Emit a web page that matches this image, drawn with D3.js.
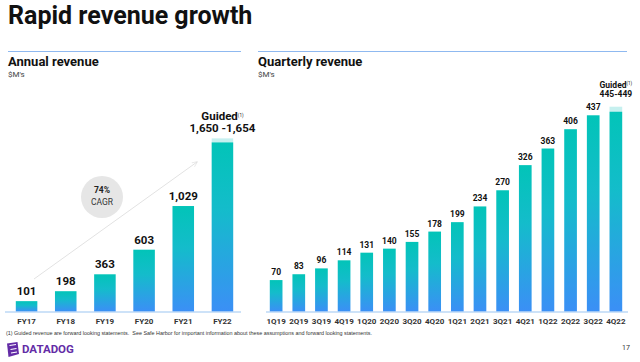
<!DOCTYPE html>
<html lang="en">
<head>
  <meta charset="UTF-8">
  <title>Rapid revenue growth</title>
  <script src="https://d3js.org/d3.v7.min.js"></script>
  <style>
    body { margin: 0; background: #fff; }
    svg { display: block; font-family: Roboto, "Liberation Sans", sans-serif; }
  </style>
</head>
<body>
  <div id="chart"></div>
  <script>
    // annual data
    const years = ["FY17", "FY18", "FY19", "FY20", "FY21", "FY22"];
    const annualValues = [101, 198, 363, 603, 1029, 1650];
    const annualLabels = ["101", "198", "363", "603", "1,029", "1,650 -1,654"];
    const annualGuided = [1650, 1654];

    // quarterly data
    const quarters = ["1Q19", "2Q19", "3Q19", "4Q19", "1Q20", "2Q20", "3Q20", "4Q20",
                      "1Q21", "2Q21", "3Q21", "4Q21", "1Q22", "2Q22", "3Q22", "4Q22"];
    const quarterValues = [70, 83, 96, 114, 131, 140, 155, 178, 199, 234, 270, 326, 363, 406, 437, 445];
    const quarterLabels = ["70", "83", "96", "114", "131", "140", "155", "178", "199", "234",
                           "270", "326", "363", "406", "437", "445-449"];
    const quarterGuided = [445, 449];

    const width = 640;
    const height = 362;

    const svg = d3.select("#chart")
      .append("svg")
      .attr("width", width)
      .attr("height", height);

    const defs = svg.append("defs");
    const grad = defs.append("linearGradient")
      .attr("id", "barGrad")
      .attr("x1", 0).attr("y1", 0).attr("x2", 0).attr("y2", 1);
    grad.append("stop").attr("offset", "0%").attr("stop-color", "#02c4b8");
    grad.append("stop").attr("offset", "40%").attr("stop-color", "#14bccb");
    grad.append("stop").attr("offset", "100%").attr("stop-color", "#3b8ff6");

    // title
    svg.append("text")
      .attr("x", 8).attr("y", 24)
      .text("Rapid revenue growth")
      .style("font-size", "25px")
      .style("font-weight", "bold")
      .attr("fill", "#111");

    function panel(x0, x1, title) {
      svg.append("line")
        .attr("x1", x0).attr("x2", x1)
        .attr("y1", 51.5).attr("y2", 51.5)
        .attr("stroke", "#8fb9f0").attr("stroke-width", 1.2);
      svg.append("text")
        .attr("x", x0).attr("y", 66)
        .text(title)
        .style("font-size", "13px")
        .style("font-weight", "bold")
        .attr("fill", "#111");
      svg.append("text")
        .attr("x", x0).attr("y", 77)
        .text("$M's")
        .style("font-size", "8px")
        .attr("fill", "#444");
    }
    panel(8, 241, "Annual revenue");
    panel(258, 627, "Quarterly revenue");

    const baseY = 311.5;

    function barChart(opts) {
      const x = d3.scaleBand()
        .domain(opts.cats)
        .range(opts.range)
        .paddingInner(opts.padIn)
        .paddingOuter(opts.padOut);
      const y = d3.scaleLinear()
        .domain([0, opts.max])
        .range([baseY, opts.top]);

      const g = svg.append("g");
      const last = opts.cats.length - 1;

      // guided cap (light)
      const capTop = Math.min(y(opts.guided[1]), y(opts.guided[0]) - opts.cap);
      g.append("rect")
        .attr("x", x(opts.cats[last]))
        .attr("width", x.bandwidth())
        .attr("y", capTop)
        .attr("height", y(opts.guided[0]) - capTop)
        .attr("fill", "#c6f0ef");

      g.selectAll(".bar")
        .data(opts.values)
        .enter()
        .append("rect")
        .attr("x", (d, i) => x(opts.cats[i]))
        .attr("width", x.bandwidth())
        .attr("y", d => y(d))
        .attr("height", d => baseY - y(d))
        .attr("fill", "url(#barGrad)");

      // value labels
      g.selectAll(".val")
        .data(opts.values)
        .enter()
        .append("text")
        .attr("x", (d, i) => x(opts.cats[i]) + x.bandwidth() / 2)
        .attr("y", (d, i) => i === last ? opts.guidedY : y(d) - opts.gap)
        .attr("text-anchor", "middle")
        .text((d, i) => opts.labels[i])
        .style("font-size", opts.fs + "px")
        .style("font-weight", "bold")
        .attr("fill", "#111");

      // "Guided(1)"
      const gt = g.append("text")
        .attr("x", x(opts.cats[last]) + x.bandwidth() / 2)
        .attr("y", opts.guidedY - opts.fs - 1)
        .attr("text-anchor", "middle")
        .style("font-size", opts.fs + "px")
        .style("font-weight", "bold")
        .attr("fill", "#111");
      gt.append("tspan").text("Guided");
      gt.append("tspan").text("(1)")
        .attr("dy", -3)
        .style("font-size", "4.5px")
        .style("font-weight", "normal");

      // baseline
      g.append("line")
        .attr("x1", opts.base[0]).attr("x2", opts.base[1])
        .attr("y1", baseY + 0.5).attr("y2", baseY + 0.5)
        .attr("stroke", "#9cc6f2").attr("stroke-width", 1.2);

      // axis labels
      const axis = g.append("g")
        .attr("transform", "translate(0," + (baseY + 3) + ")")
        .call(d3.axisBottom(x).tickSize(0).tickPadding(4));
      axis.select(".domain").remove();
      axis.selectAll("text")
        .style("font-family", "Roboto, sans-serif")
        .style("font-size", "8px")
        .style("font-weight", "bold")
        .attr("fill", "#333");
    }

    barChart({
      cats: years, values: annualValues, labels: annualLabels, guided: annualGuided,
      range: [6, 243], padIn: 0.45, padOut: 0.25,
      max: 1700, top: baseY - 174.25, cap: 4,
      base: [5, 241], fs: 11.5, gap: 6, guidedY: 132
    });

    barChart({
      cats: quarters, values: quarterValues, labels: quarterLabels, guided: quarterGuided,
      range: [263, 629], padIn: 0.44, padOut: 0.3,
      max: 500, top: baseY - 224.5, cap: 5,
      base: [266, 628], fs: 8.5, gap: 5, guidedY: 97
    });

    // CAGR arrow
    defs.append("marker")
      .attr("id", "arrow")
      .attr("viewBox", "0 0 10 10")
      .attr("refX", 8).attr("refY", 5)
      .attr("markerWidth", 6).attr("markerHeight", 6)
      .attr("orient", "auto")
      .append("path")
      .attr("d", "M0,1 L9,5 L0,9")
      .attr("fill", "none")
      .attr("stroke", "#ddd");
    svg.append("line")
      .attr("x1", 34).attr("y1", 279)
      .attr("x2", 197).attr("y2", 162)
      .attr("stroke", "#e2e2e2").attr("stroke-width", 1)
      .attr("marker-end", "url(#arrow)");

    svg.append("circle")
      .attr("cx", 102).attr("cy", 197).attr("r", 21)
      .attr("fill", "#e6e6e6");
    svg.append("text")
      .attr("x", 102).attr("y", 193)
      .attr("text-anchor", "middle")
      .text("74%")
      .style("font-size", "8.5px").style("font-weight", "bold")
      .attr("fill", "#222");
    svg.append("text")
      .attr("x", 102).attr("y", 205)
      .attr("text-anchor", "middle")
      .text("CAGR")
      .style("font-size", "8.5px")
      .attr("fill", "#333");

    // footnote
    svg.append("text")
      .attr("x", 6).attr("y", 335)
      .text("(1) Guided revenue are forward looking statements.  See Safe Harbor for important information about these assumptions and forward looking statements.")
      .style("font-family", "'Liberation Sans', Arial, sans-serif")
      .style("font-size", "6px")
      .attr("textLength", 366)
      .attr("lengthAdjust", "spacingAndGlyphs")
      .attr("fill", "#333")
      .attr("xml:space", "preserve");

    // logo
    const logo = svg.append("g").attr("transform", "translate(6,342)");
    logo.append("path")
      .attr("d", "M1,1.5 L11.5,0 L13,12 L2.5,15 Z")
      .attr("fill", "#632ca6");
    logo.append("path")
      .attr("d", "M3.5,3.5 L10,2.5 M4.5,7.5 L10.5,6.5 M5,11 L11,10")
      .attr("stroke", "#fff").attr("stroke-width", 1.2);
    svg.append("text")
      .attr("x", 22).attr("y", 353)
      .text("DATADOG")
      .style("font-size", "11.5px")
      .style("font-weight", "bold")
      .attr("fill", "#632ca6");

    svg.append("text")
      .attr("x", 626).attr("y", 350)
      .attr("text-anchor", "middle")
      .text("17")
      .style("font-size", "7px")
      .attr("fill", "#333");
  </script>
</body>
</html>
